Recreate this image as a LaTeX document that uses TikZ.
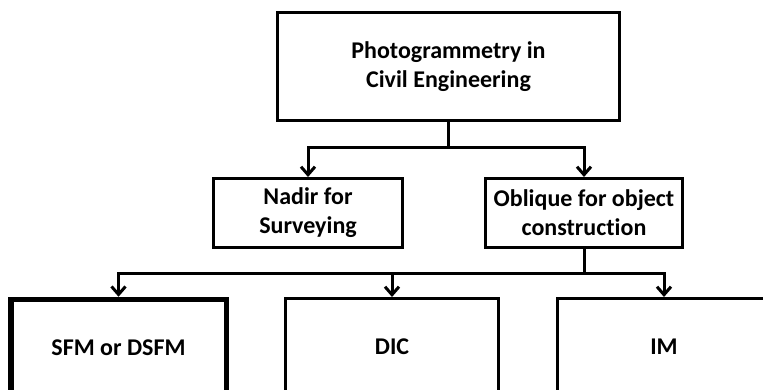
\documentclass[tikz,border=0pt]{standalone}
\usepackage{fontspec}
\setmainfont{Carlito}[Ligatures=NoCommon]
\usepackage{tikz}
\usetikzlibrary{arrows.meta}
\usetikzlibrary{positioning}

\begin{document}
\begin{tikzpicture}[x=1pt, y=-1pt,
  box/.style={draw, line width=3pt, align=center, inner sep=0pt, font=\fontsize{24}{29}\selectfont\bfseries},
  leaf/.style={box, anchor=north, minimum width=213pt, text height=56pt, text depth=64pt},
  link/.style={line width=3pt},
  arr/.style={line width=3pt, -{Straight Barb[length=8pt, width=14pt]}}]

	\useasboundingbox (0,0) rectangle (763,390);
	\clip (0,0) rectangle (763,390);

	% top level
	\node[box, minimum width=342pt, minimum height=108pt] (photo) at (448.5,67) {Photogrammetry in\\Civil Engineering};

	% second level
	\node[box, minimum width=189pt, minimum height=69pt] (nadir) at (308,213) {Nadir for\\Surveying};
	\node[box, minimum width=197pt, minimum height=69pt] (oblique) at (584,213) {Oblique for object\\construction};

	% third level
	\node[leaf, line width=5.5pt, minimum width=215.5pt] (sfm) at (118.5,296.75) {SFM or DSFM};
	\node[leaf] (dic) at (392,297) {DIC};
	\node[leaf] (im) at (664,297) {IM};

	\coordinate (forktop) at (448.5,148);
	\draw[link] (photo) -- (forktop);
	\draw[arr] (forktop) -| (nadir);
	\draw[arr] (forktop) -| (oblique);

	\coordinate (forkbot) at (584,273);
	\draw[link] (oblique) -- (forkbot);
	\draw[arr] (forkbot) -| (sfm);
	\draw[arr] (forkbot) -| (dic);
	\draw[arr] (forkbot) -| (im);

\end{tikzpicture}
\end{document}
